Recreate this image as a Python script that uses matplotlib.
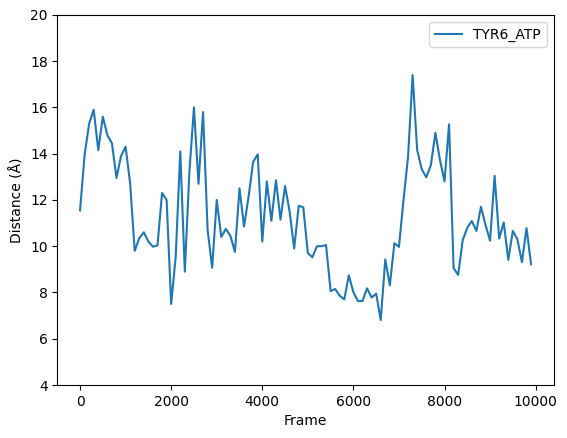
import numpy as np
import matplotlib
matplotlib.use('Agg')
import matplotlib.pyplot as plt

frames = np.arange(0, 10000, 100)
tyr6_atp = [11.55, 13.95, 15.3, 15.9, 14.15, 15.6, 14.8, 14.45, 12.95, 13.9,
            14.3, 12.7, 9.8, 10.35, 10.6, 10.2, 9.98, 10.03, 12.3, 12.0,
            7.5, 9.55, 14.1, 8.9, 13.2, 16.0, 12.7, 15.8, 10.7, 9.07,
            12.0, 10.4, 10.75, 10.45, 9.75, 12.5, 10.85, 12.15, 13.65, 13.97,
            10.2, 12.8, 11.1, 12.85, 11.15, 12.6, 11.5, 9.9, 11.75, 11.68,
            9.7, 9.52, 10.0, 10.0, 10.05, 8.06, 8.15, 7.86, 7.7, 8.74,
            8.01, 7.63, 7.63, 8.18, 7.78, 7.95, 6.81, 9.43, 8.31, 10.13,
            9.97, 12.0, 13.87, 17.4, 14.16, 13.33, 12.98, 13.5, 14.9, 13.73,
            12.8, 15.27, 9.05, 8.76, 10.27, 10.8, 11.09, 10.66, 11.71, 10.92,
            10.24, 13.04, 10.33, 11.03, 9.41, 10.66, 10.3, 9.31, 10.78, 9.22]

fig = plt.figure(figsize=(5.67, 4.38), dpi=100)
ax = fig.add_axes([0.1014, 0.121, 0.875, 0.845])
ax.plot(frames, tyr6_atp, label='TYR6_ATP')
ax.set_ylim(4, 20)
ax.set_xlabel('Frame')
ax.set_ylabel('Distance (Å)')
ax.legend(loc='upper right')
fig.savefig('out.png', dpi=100)
